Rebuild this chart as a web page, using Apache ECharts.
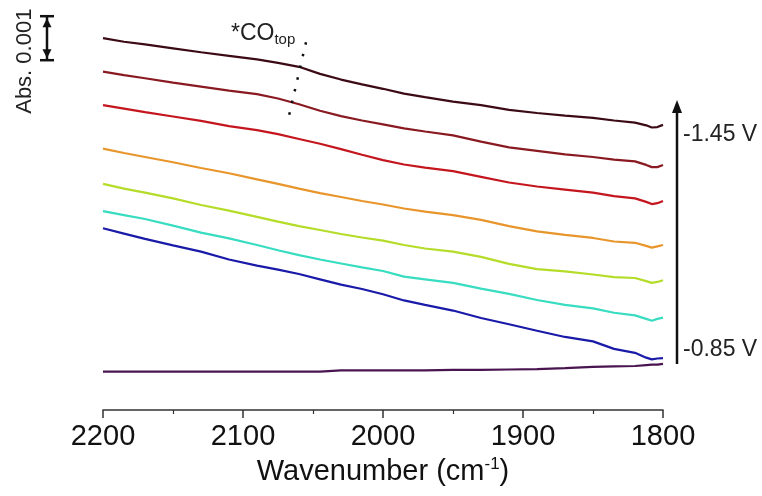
<!DOCTYPE html>
<html>
<head>
<meta charset="utf-8">
<script src="https://cdn.jsdelivr.net/npm/echarts@6/dist/echarts.min.js"></script>
<style>
  html, body { margin: 0; padding: 0; background: #fff; }
  #chart { width: 762px; height: 496px; }
</style>
</head>
<body>
<div id="chart"></div>
<script>
// Wavenumber grid (cm-1) shared by all spectra
const wavenumbers = [2200, 2185, 2170, 2150, 2130, 2110, 2090, 2075, 2060, 2045, 2030, 2015, 2000,
  1985, 1970, 1950, 1930, 1910, 1890, 1870, 1850, 1835, 1820, 1812, 1808, 1804, 1800];

// Offset absorbance traces, in units of 0.001 Abs (top trace = -1.45 V, bottom = -0.85 V)
const spec145 = [8.45, 8.37, 8.31, 8.22, 8.13, 8.05, 7.97, 7.89, 7.80, 7.64, 7.51, 7.40, 7.30, 7.19, 7.11, 7.01, 6.93, 6.82, 6.75, 6.69, 6.64, 6.58, 6.53, 6.47, 6.42, 6.43, 6.48];
const spec135 = [7.69, 7.61, 7.54, 7.44, 7.35, 7.26, 7.18, 7.08, 6.95, 6.80, 6.68, 6.58, 6.49, 6.40, 6.33, 6.24, 6.10, 5.97, 5.89, 5.81, 5.75, 5.69, 5.65, 5.57, 5.52, 5.52, 5.57];
const spec125 = [6.93, 6.85, 6.77, 6.67, 6.57, 6.45, 6.36, 6.27, 6.16, 6.05, 5.93, 5.80, 5.68, 5.58, 5.51, 5.43, 5.30, 5.17, 5.08, 5.01, 4.94, 4.86, 4.81, 4.73, 4.68, 4.70, 4.75];
const spec115 = [5.94, 5.84, 5.75, 5.63, 5.50, 5.38, 5.24, 5.14, 5.03, 4.93, 4.84, 4.75, 4.67, 4.58, 4.51, 4.43, 4.32, 4.18, 4.06, 3.98, 3.91, 3.83, 3.80, 3.73, 3.69, 3.72, 3.75];
const spec105 = [5.14, 5.03, 4.94, 4.81, 4.66, 4.53, 4.39, 4.28, 4.18, 4.09, 4.00, 3.92, 3.85, 3.75, 3.67, 3.60, 3.48, 3.32, 3.20, 3.15, 3.08, 3.02, 3.00, 2.93, 2.89, 2.91, 2.95];
const spec095 = [4.52, 4.43, 4.34, 4.19, 4.03, 3.90, 3.75, 3.63, 3.52, 3.42, 3.33, 3.24, 3.16, 3.03, 2.97, 2.89, 2.76, 2.64, 2.50, 2.39, 2.31, 2.21, 2.15, 2.07, 2.03, 2.07, 2.10];
const spec090 = [4.13, 4.01, 3.89, 3.74, 3.60, 3.42, 3.28, 3.19, 3.09, 2.97, 2.85, 2.75, 2.63, 2.49, 2.39, 2.26, 2.09, 1.95, 1.80, 1.66, 1.56, 1.39, 1.30, 1.19, 1.15, 1.17, 1.18];
const spec085 = [0.87, 0.87, 0.87, 0.87, 0.87, 0.87, 0.87, 0.87, 0.87, 0.87, 0.90, 0.90, 0.90, 0.90, 0.90, 0.91, 0.91, 0.92, 0.93, 0.95, 0.98, 0.99, 1.00, 1.02, 1.03, 1.03, 1.05];

const traces = [spec145, spec135, spec125, spec115, spec105, spec095, spec090, spec085];
const traceColors = ['#3b0a14', '#8a1a22', '#c4161e', '#e8962c', '#b4dc28', '#38dcc0', '#1a1aa8', '#4a1450'];

// X-axis ticks
const xTicks = [2200, 2100, 2000, 1900, 1800];

// Dotted guide through the *CO(top) band
const coGuide = [[2055, 8.36], [2068, 6.57]];

// Scale bar span (0.001 Abs)
const scaleBar = [7.95, 8.95];

const font = '"Liberation Sans", Arial, sans-serif';

const chart = echarts.init(document.getElementById('chart'), null, { renderer: 'canvas' });

const series = traces.map((vals, i) => ({
  type: 'line',
  data: wavenumbers.map((w, k) => [w, vals[k]]),
  showSymbol: false,
  silent: true,
  z: 3,
  lineStyle: { color: traceColors[i], width: 2.2 }
}));

series.push({
  type: 'line',
  data: coGuide,
  showSymbol: false,
  silent: true,
  z: 4,
  lineStyle: { color: '#111', width: 2.5, type: [2.5, 9.5] }
});

chart.setOption({
  animation: false,
  backgroundColor: '#ffffff',
  grid: { left: 103, right: 99, top: 14, height: 396 },
  xAxis: {
    type: 'value',
    inverse: true,
    min: 1800,
    max: 2200,
    interval: 100,
    name: 'Wavenumber (cm{sup|-1})',
    nameLocation: 'middle',
    nameGap: 46,
    nameTextStyle: {
      fontFamily: font, fontSize: 29, color: '#111',
      rich: { sup: { fontFamily: font, fontSize: 17, color: '#111', verticalAlign: 'top', padding: [0, 0, 15, 0] } }
    },
    axisLine: { show: true, onZero: false, lineStyle: { color: '#333', width: 1.5 } },
    axisTick: { show: true, length: 8, lineStyle: { color: '#333', width: 1.5 } },
    minorTick: { show: true, splitNumber: 2, length: 4, lineStyle: { color: '#333', width: 1.2 } },
    splitLine: { show: false },
    axisLabel: {
      margin: 12, fontFamily: font, fontSize: 29, color: '#111',
      formatter: v => (xTicks.includes(v) ? String(v) : '')
    }
  },
  yAxis: {
    type: 'value', min: 0, max: 9, show: false
  },
  series
});

// Annotations: scale bar, potential arrow, labels
const px = chart.convertToPixel({ yAxisIndex: 0 }, scaleBar[1]);
const pb = chart.convertToPixel({ yAxisIndex: 0 }, scaleBar[0]);
const sx = 47;
const ink = '#111';

chart.setOption({
  graphic: [
    // scale bar
    { type: 'line', shape: { x1: sx, y1: px, x2: sx, y2: pb }, style: { stroke: ink, lineWidth: 2.5 } },
    { type: 'line', shape: { x1: sx - 7, y1: px, x2: sx + 7, y2: px }, style: { stroke: ink, lineWidth: 2.5 } },
    { type: 'line', shape: { x1: sx - 7, y1: pb, x2: sx + 7, y2: pb }, style: { stroke: ink, lineWidth: 2.5 } },
    { type: 'polygon', shape: { points: [[sx, px + 2], [sx - 4.5, px + 11], [sx + 4.5, px + 11]] }, style: { fill: ink } },
    { type: 'polygon', shape: { points: [[sx, pb - 2], [sx - 4.5, pb - 11], [sx + 4.5, pb - 11]] }, style: { fill: ink } },
    {
      type: 'text', x: 25, y: (px + pb) / 2 + 23, rotation: Math.PI / 2,
      style: { text: 'Abs. 0.001', fontFamily: font, fontSize: 22, fill: '#222', align: 'center', verticalAlign: 'middle' }
    },
    // potential arrow
    { type: 'line', shape: { x1: 677, y1: 364, x2: 677, y2: 108 }, style: { stroke: ink, lineWidth: 2.5 } },
    { type: 'polygon', shape: { points: [[677, 100], [672, 113], [682, 113]] }, style: { fill: ink } },
    { type: 'text', x: 683, y: 135, style: { text: '-1.45 V', fontFamily: font, fontSize: 23, fill: '#222', verticalAlign: 'middle' } },
    { type: 'text', x: 683, y: 350, style: { text: '-0.85 V', fontFamily: font, fontSize: 23, fill: '#222', verticalAlign: 'middle' } },
    // band label
    {
      type: 'text', x: 231, y: 34,
      style: {
        text: '{a|*CO}{b|top}', verticalAlign: 'middle',
        rich: {
          a: { fontFamily: font, fontSize: 23, fill: '#222' },
          b: { fontFamily: font, fontSize: 15, fill: '#222', padding: [12, 0, 0, 0] }
        }
      }
    }
  ]
});
</script>
</body>
</html>
